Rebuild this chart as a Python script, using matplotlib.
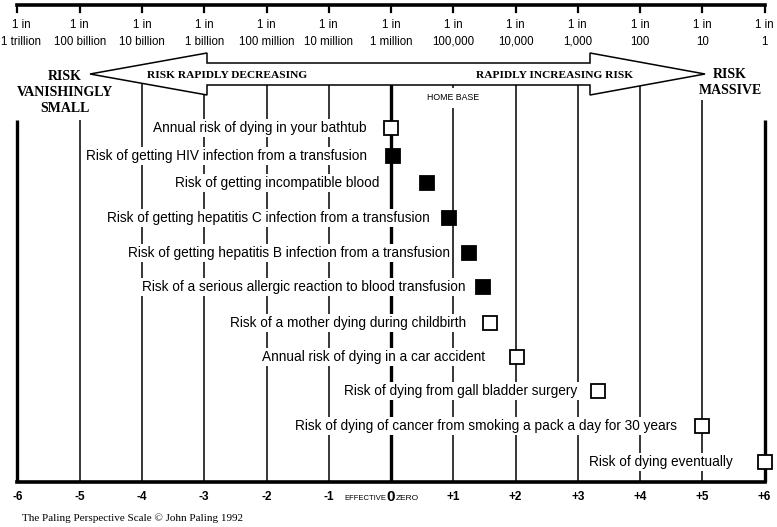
import matplotlib
matplotlib.use("Agg")
import matplotlib.pyplot as plt
from matplotlib.patches import Polygon

# scale: log10 of "1 in N" odds, shifted so that 1 in a million = 0
scale_ticks = list(range(-6, 7))
odds_labels = ["1 trillion", "100 billion", "10 billion", "1 billion", "100 million",
               "10 million", "1 million", "100,000", "10,000", "1,000", "100", "10", "1"]
bottom_labels = ["-6", "-5", "-4", "-3", "-2", "-1", "0", "+1", "+2", "+3", "+4", "+5", "+6"]

risks = [
    "Annual risk of dying in your bathtub",
    "Risk of getting HIV infection from a transfusion",
    "Risk of getting incompatible blood",
    "Risk of getting hepatitis C infection from a transfusion",
    "Risk of getting hepatitis B infection from a transfusion",
    "Risk of a serious allergic reaction to blood transfusion",
    "Risk of a mother dying during childbirth",
    "Annual risk of dying in a car accident",
    "Risk of dying from gall bladder surgery",
    "Risk of dying of cancer from smoking a pack a day for 30 years",
    "Risk of dying eventually",
]
risk_scores = [0.0, 0.03, 0.58, 0.93, 1.25, 1.48, 1.59, 2.02, 3.32, 5.0, 6.0]
transfusion = [False, True, True, True, True, True, False, False, False, False, False]

# layout, in pixels of the 777x527 picture
W, H = 777, 527
PX = 62.25      # pixels per scale unit
X0 = 391        # pixel of effective zero
row_y = [128, 156, 183, 218, 253, 287, 323, 357, 391, 426, 462]
label_gap = [24, 26, 48, 19, 19, 18, 24, 32, 20, 25, 32]
line_top = [120, 120, 66, 66, 66, 66, 66, 66, 66, 66, 66, 100, 120]
AX_BOT = 482


def px(p):
    return (p - X0) / PX


sans = "Liberation Sans"
serif = "Liberation Serif"

fig = plt.figure(figsize=(7.77, 5.27), dpi=100)
ax = fig.add_axes([0, 0, 1, 1])
ax.set_xlim(px(0), px(W))
ax.set_ylim(H, 0)
ax.axis("off")

# vertical scale lines
for t, top in zip(scale_ticks, line_top):
    heavy = t in (-6, 0, 6)
    ax.plot([t, t], [top, AX_BOT], color="black", lw=2.4 if heavy else 1.1,
            solid_capstyle="butt", zorder=1)
ax.plot([-6, 6], [AX_BOT, AX_BOT], color="black", lw=2.6, solid_capstyle="projecting", zorder=2)

# top odds ruler
ax.plot([-6, 6], [5, 5], color="black", lw=2.6, solid_capstyle="projecting")
for t, lab in zip(scale_ticks, odds_labels):
    ax.plot([t, t], [5, 12], color="black", lw=1.6)
    xt = max(t, px(21))
    ax.text(xt, 25, "1 in", ha="center", va="center", fontsize=8.3, family=sans)
    ax.text(xt, 42, lab, ha="center", va="center", fontsize=8.3, family=sans)

# double arrow
arrow = [(90, 74), (207, 53), (207, 63), (590, 63), (590, 53), (705, 74),
         (590, 95), (590, 85), (207, 85), (207, 95)]
ax.add_patch(Polygon([(px(a), b) for a, b in arrow], closed=True, fc="white",
                     ec="black", lw=1.1, zorder=3))
ax.text(px(147), 75, "RISK RAPIDLY DECREASING", ha="left", va="center",
        fontsize=8.2, family=serif, weight="bold", zorder=4)
ax.text(px(476), 75, "RAPIDLY INCREASING RISK", ha="left", va="center",
        fontsize=8.2, family=serif, weight="bold", zorder=4)

white = dict(fc="white", ec="none", pad=2)
ax.text(px(65), 92, "RISK\nVANISHINGLY\nSMALL", ha="center", va="center",
        fontsize=10, family=serif, weight="bold", linespacing=1.3, bbox=white, zorder=2.5)
ax.text(px(730), 82, "RISK\nMASSIVE", ha="center", va="center",
        fontsize=10, family=serif, weight="bold", linespacing=1.3, bbox=white, zorder=2.5)
ax.text(1, 98, "HOME BASE", ha="center", va="center", fontsize=6.3, family=sans,
        bbox=dict(fc="white", ec="none", pad=4), zorder=4)

# risks
for lab, s, filled, y, gap in zip(risks, risk_scores, transfusion, row_y, label_gap):
    ax.text(s - gap / PX, y, lab, ha="right", va="center", fontsize=9.8, family=sans,
            bbox=dict(fc="white", ec="none", pad=1.5), zorder=4)
    ax.plot(s, y, marker="s", ms=10, mfc="black" if filled else "white",
            mec="black", mew=1.3, ls="none", zorder=6)

# bottom scale labels
for t, lab in zip(scale_ticks, bottom_labels):
    ax.text(t, 497, lab, ha="center", va="center", weight="bold", family=sans,
            fontsize=11 if t == 0 else 8.5)
ax.text(px(386), 498, "EFFECTIVE", ha="right", va="center", fontsize=5.5, family=sans)
ax.text(px(396), 498, "ZERO", ha="left", va="center", fontsize=6, family=sans)

ax.text(px(22), 518, "The Paling Perspective Scale \u00a9 John Paling 1992", ha="left",
        va="center", fontsize=8, family=serif)

fig.savefig("out.png", dpi=100)
